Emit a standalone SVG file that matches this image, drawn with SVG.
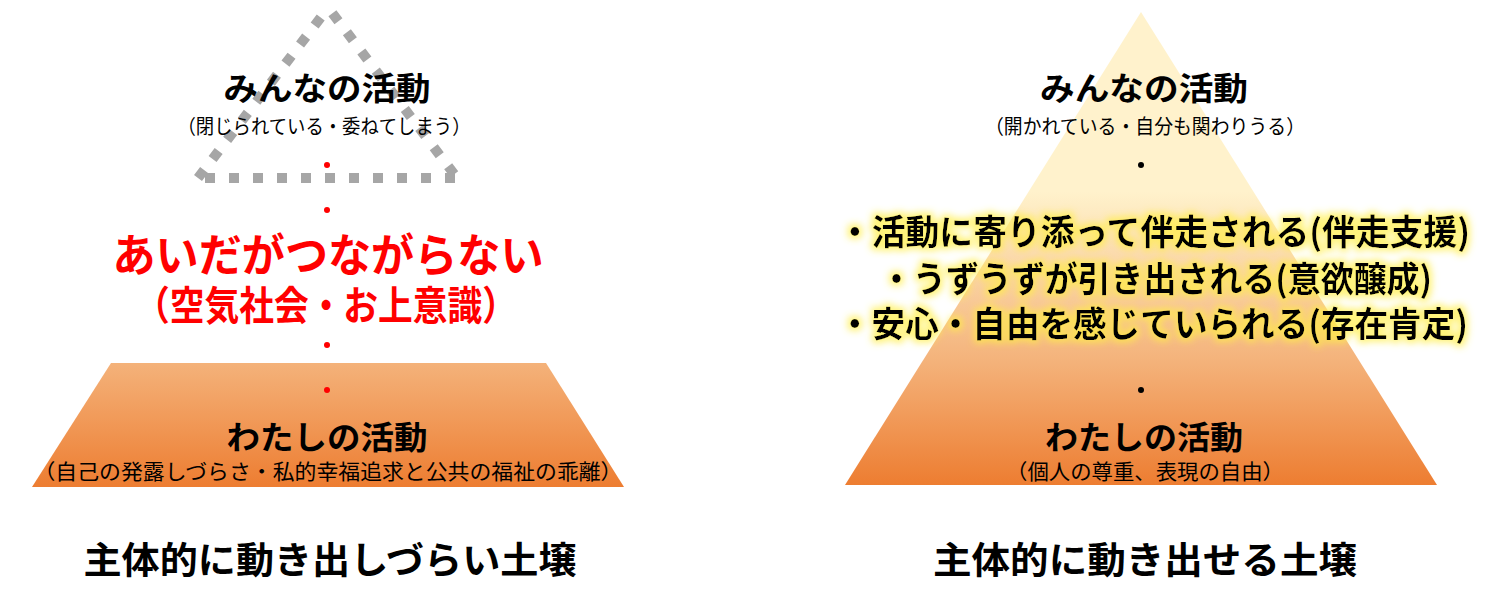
<svg xmlns="http://www.w3.org/2000/svg" width="1505" height="609" viewBox="0 0 1505 609">
<defs>
<linearGradient id="gTrap" x1="0" y1="0" x2="0" y2="1">
<stop offset="0" stop-color="#F4B27A"/>
<stop offset="1" stop-color="#ED7D31"/>
</linearGradient>
<linearGradient id="gTri" gradientUnits="userSpaceOnUse" x1="0" y1="12" x2="0" y2="485">
<stop offset="0" stop-color="#FFF2CC"/>
<stop offset="0.38" stop-color="#FFF2CC"/>
<stop offset="0.74" stop-color="#F4B27A"/>
<stop offset="1" stop-color="#ED7D31"/>
</linearGradient>
<filter id="glow" x="-10%" y="-40%" width="120%" height="180%">
<feMorphology in="SourceAlpha" operator="dilate" radius="3" result="d"/>
<feGaussianBlur in="d" stdDeviation="3.5" result="b"/>
<feFlood flood-color="#FFEE44" flood-opacity="0.7"/>
<feComposite in2="b" operator="in" result="g"/>
<feMerge><feMergeNode in="g"/><feMergeNode in="SourceGraphic"/></feMerge>
</filter>
</defs>
<style>
text{font-family:"Noto Sans CJK JP","Noto Sans",sans-serif;text-anchor:middle;fill:#000}
.h{font-weight:bold;font-size:32px}
.s{font-size:20px}
.s2{font-size:21px}
.r{fill:#FF0000;font-weight:bold}
.f{font-weight:bold;font-size:35px}
.b{font-weight:bold;font-size:37px}
.dash{fill:none;stroke:#A6A6A6;stroke-width:10;stroke-dasharray:10 14}
.rd{fill:#FF0000}
.bd{fill:#000}
</style>
<rect width="1505" height="609" fill="#FFFFFF"/>

<g id="left-pyramid">
<g id="left-base">
<polygon points="111,363 546,363 624,487 32,487" fill="url(#gTrap)"/>
</g>
<g id="left-top-outline">
<line class="dash" x1="198" y1="178" x2="328" y2="8"/>
<line class="dash" x1="330" y1="10" x2="457" y2="178" stroke-dashoffset="-4"/>
<line class="dash" x1="198" y1="178" x2="457" y2="178" stroke-dashoffset="17"/>
</g>
<g id="left-top-text">
<text class="h" x="327" y="100" textLength="207" lengthAdjust="spacingAndGlyphs">みんなの活動</text>
<text class="s" x="324" y="134" textLength="293" lengthAdjust="spacingAndGlyphs">（閉じられている・委ねてしまう）</text>
</g>
<g id="left-dots">
<circle class="rd" cx="327" cy="165" r="3"/>
<circle class="rd" cx="327" cy="210" r="3"/>
<circle class="rd" cx="327" cy="345" r="3"/>
<circle class="rd" cx="327" cy="390" r="3"/>
</g>
<g id="left-middle-text">
<text class="r" x="328" y="272" font-size="45" textLength="431" lengthAdjust="spacingAndGlyphs">あいだがつながらない</text>
<text class="r" x="326" y="320" font-size="40" textLength="382" lengthAdjust="spacingAndGlyphs">（空気社会・お上意識）</text>
</g>
<g id="left-bottom-text">
<text class="h" x="327" y="449" textLength="201" lengthAdjust="spacingAndGlyphs">わたしの活動</text>
<text class="s2" x="328" y="479" textLength="589" lengthAdjust="spacingAndGlyphs">（自己の発露しづらさ・私的幸福追求と公共の福祉の乖離）</text>
</g>
<g id="left-caption">
<text class="b" x="330" y="574" textLength="493" lengthAdjust="spacingAndGlyphs">主体的に動き出しづらい土壌</text>
</g>
</g>

<g id="right-pyramid">
<g id="right-triangle">
<polygon points="1141,12 1437,485 845,485" fill="url(#gTri)"/>
</g>
<g id="right-top-text">
<text class="h" x="1144" y="100" textLength="208" lengthAdjust="spacingAndGlyphs">みんなの活動</text>
<text class="s" x="1145" y="134" textLength="320" lengthAdjust="spacingAndGlyphs">（開かれている・自分も関わりうる）</text>
</g>
<g id="right-dots">
<circle class="bd" cx="1141" cy="165" r="3"/>
<circle class="bd" cx="1141" cy="390" r="3"/>
</g>
<g id="right-middle-text" filter="url(#glow)">
<text class="f" x="1154" y="245" textLength="632" lengthAdjust="spacingAndGlyphs">・活動に寄り添って伴走される(伴走支援)</text>
<text class="f" x="1156" y="292" textLength="552" lengthAdjust="spacingAndGlyphs">・うずうずが引き出される(意欲醸成)</text>
<text class="f" x="1153" y="337" textLength="630" lengthAdjust="spacingAndGlyphs">・安心・自由を感じていられる(存在肯定)</text>
</g>
<g id="right-bottom-text">
<text class="h" x="1144" y="449" textLength="198" lengthAdjust="spacingAndGlyphs">わたしの活動</text>
<text class="s2" x="1145" y="479" textLength="278" lengthAdjust="spacingAndGlyphs">（個人の尊重、表現の自由）</text>
</g>
<g id="right-caption">
<text class="b" x="1145" y="574" textLength="424" lengthAdjust="spacingAndGlyphs">主体的に動き出せる土壌</text>
</g>
</g>

<g id="connectors"/>
</svg>
